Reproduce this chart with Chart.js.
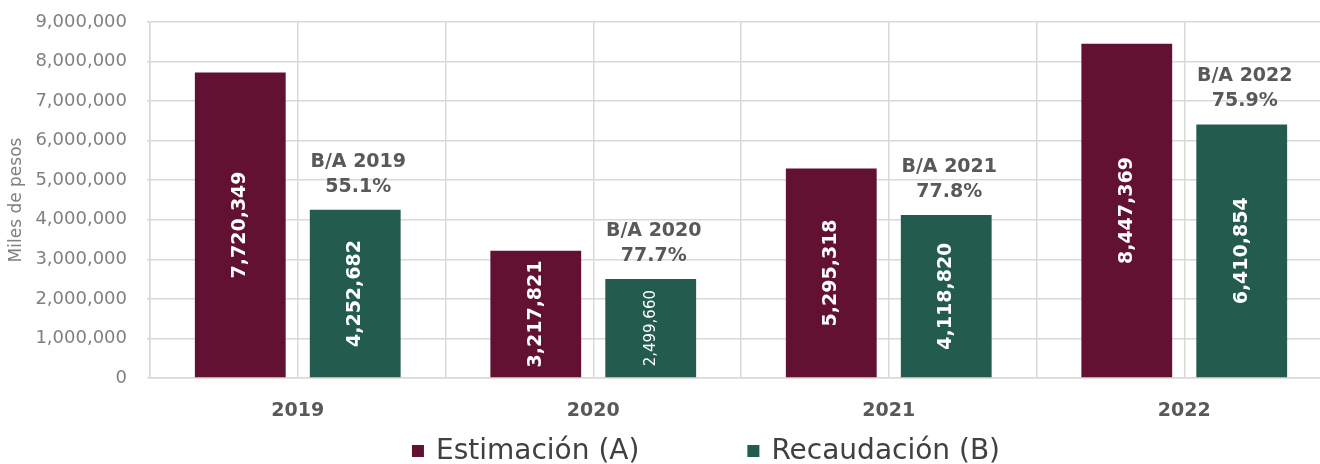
<!DOCTYPE html>
<html><head><meta charset="utf-8">
<script src="https://cdn.jsdelivr.net/npm/chart.js@4/dist/chart.umd.min.js"></script>
<style>
html,body{margin:0;padding:0;background:#fff;overflow:hidden;}
#wrap{position:relative;width:1334px;height:464px;}
</style></head><body>
<div id="wrap"><canvas id="c"></canvas></div>
<script>
const categories = ['2019', '2020', '2021', '2022'];
const estimacion = [7720349, 3217821, 5295318, 8447369];
const recaudacion = [4252682, 2499660, 4118820, 6410854];
const seriesNames = ['Estimación (A)', 'Recaudación (B)'];
const yTickValues = [0, 1000000, 2000000, 3000000, 4000000, 5000000, 6000000, 7000000, 8000000, 9000000];
const yTitle = 'Miles de pesos';
const ratioPrefix = 'B/A ';

const FONT = "'DejaVu Sans', sans-serif";
const MAROON = '#621132';
const GREEN = '#235B4E';
const GRID = '#d9d9d9';
const fmt = v => v.toLocaleString('en-US');

const barLabels = {
  id: 'barLabels',
  afterDatasetsDraw(chart) {
    const ctx = chart.ctx;
    chart.data.datasets.forEach((ds, di) => {
      const meta = chart.getDatasetMeta(di);
      meta.data.forEach((bar, i) => {
        const txt = fmt(ds.data[i]);
        const h = bar.base - bar.y;
        ctx.save();
        ctx.font = `bold 19px ${FONT}`;
        if (ctx.measureText(txt).width > h - 16) ctx.font = `normal 15px ${FONT}`;
        ctx.translate(bar.x, (bar.y + bar.base) / 2);
        ctx.rotate(-Math.PI / 2);
        ctx.fillStyle = '#ffffff';
        ctx.textAlign = 'center';
        ctx.textBaseline = 'middle';
        ctx.fillText(txt, 0, 0);
        ctx.restore();
      });
    });
    const metaB = chart.getDatasetMeta(1);
    metaB.data.forEach((bar, i) => {
      const pct = (recaudacion[i] / estimacion[i] * 100).toFixed(1) + '%';
      ctx.save();
      ctx.font = `bold 19px ${FONT}`;
      ctx.fillStyle = '#595959';
      ctx.textAlign = 'center';
      ctx.textBaseline = 'middle';
      ctx.fillText(ratioPrefix + categories[i], bar.x + 3, bar.y - 48);
      ctx.fillText(pct, bar.x + 3, bar.y - 23);
      ctx.restore();
    });
  }
};

const customLegend = {
  id: 'customLegend',
  afterDraw(chart, args, opts) {
    const ctx = chart.ctx;
    ctx.save();
    ctx.font = `normal ${opts.fontSize}px ${FONT}`;
    const items = chart.data.datasets.map(ds => ({ text: ds.label, color: ds.backgroundColor, w: ctx.measureText(ds.label).width }));
    const itemW = it => opts.box + opts.boxGap + it.w;
    const total = items.reduce((s, it) => s + itemW(it), 0) + opts.gap * (items.length - 1);
    let x = opts.centerX - total / 2;
    const y = chart.height - opts.bottomOffset;
    items.forEach(it => {
      ctx.fillStyle = it.color;
      ctx.fillRect(x, y - opts.box / 2, opts.box, opts.box);
      ctx.fillStyle = '#404040';
      ctx.textAlign = 'left';
      ctx.textBaseline = 'middle';
      ctx.fillText(it.text, x + opts.box + opts.boxGap, y + 1);
      x += itemW(it) + opts.gap;
    });
    ctx.restore();
  }
};

new Chart(document.getElementById('c'), {
  type: 'bar',
  data: {
    labels: categories,
    datasets: [
      { label: seriesNames[0], data: estimacion, backgroundColor: MAROON, categoryPercentage: 0.778, barPercentage: 0.79 },
      { label: seriesNames[1], data: recaudacion, backgroundColor: GREEN, categoryPercentage: 0.778, barPercentage: 0.79 }
    ]
  },
  plugins: [barLabels, customLegend],
  options: {
    responsive: true,
    maintainAspectRatio: false,
    animation: false,
    layout: { padding: { top: 22, right: 2, left: 0, bottom: 40 } },
    plugins: {
      legend: { display: false },
      tooltip: { enabled: false },
      customLegend: { centerX: 706, gap: 108, box: 12, boxGap: 12, fontSize: 28, bottomOffset: 13 }
    },
    scales: {
      x: {
        type: 'category',
        grid: { display: false },
        border: { display: true, color: GRID, width: 1.5 },
        ticks: { font: { family: FONT, size: 19, weight: 'bold' }, color: '#595959', padding: 14 },
        afterFit(s) { s.height = 46; }
      },
      xg: {
        type: 'linear',
        position: 'bottom',
        offset: false,
        min: -0.5, max: 3.5,
        ticks: { display: false, stepSize: 0.5 },
        grid: { color: GRID, drawTicks: false, lineWidth: 1.5, offset: false },
        border: { display: false },
        afterFit(s) { s.height = 0; }
      },
      y: {
        min: 0, max: 9000000,
        afterBuildTicks(s) { s.ticks = yTickValues.map(v => ({ value: v })); },
        ticks: { callback: v => fmt(v), font: { family: FONT, size: 18 }, color: '#808080', padding: 20 },
        grid: { color: GRID, tickLength: 3, lineWidth: 1.5 },
        border: { color: GRID, width: 1.5 },
        title: { display: true, text: yTitle, color: '#808080', font: { family: FONT, size: 17 }, padding: { top: 6, bottom: 0 } },
        afterFit(s) { s.width = 150; s.paddingTop = 0; s.paddingBottom = 0; }
      }
    }
  }
});
</script>
</body></html>
